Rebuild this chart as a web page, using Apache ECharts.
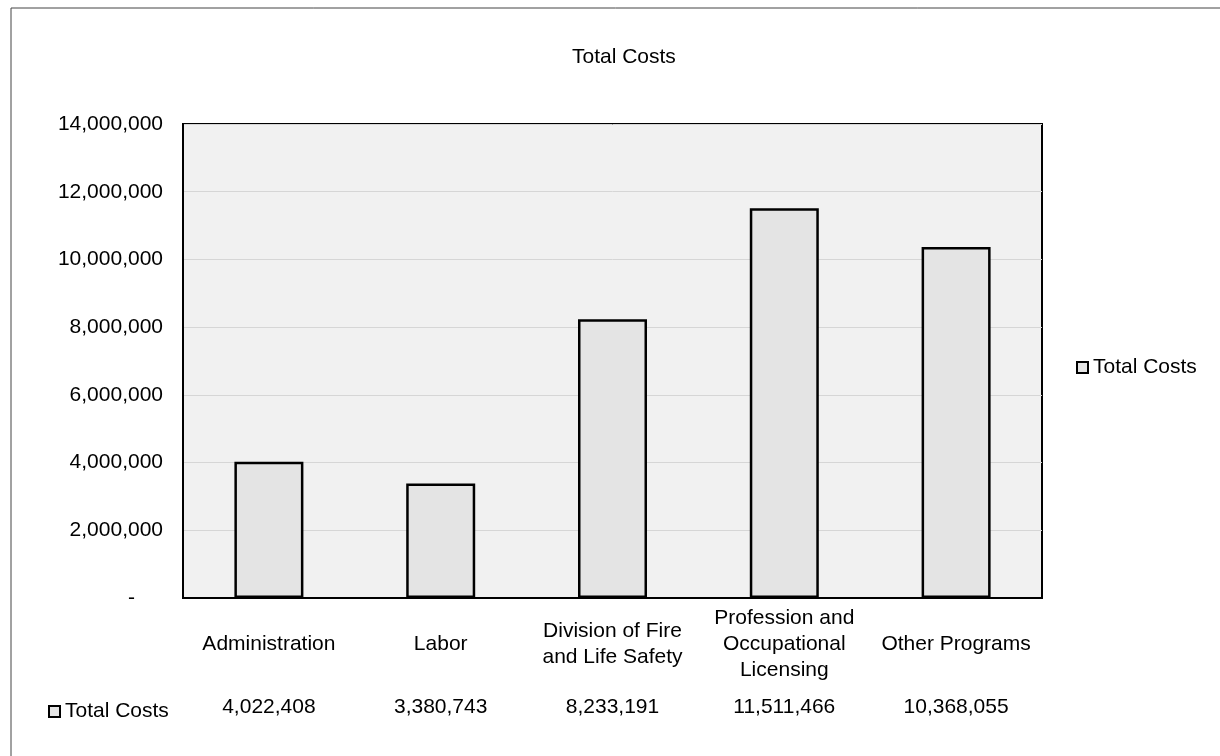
<!DOCTYPE html>
<html>
<head>
<meta charset="utf-8">
<style>html,body{margin:0;padding:0;background:#fff;}#chart{width:1220px;height:756px;}</style>
<script src="https://cdn.jsdelivr.net/npm/echarts@6/dist/echarts.min.js"></script>
</head>
<body>
<div id="chart"></div>
<script>
const categories = ['Administration', 'Labor', 'Division of Fire\nand Life Safety', 'Profession and\nOccupational\nLicensing', 'Other Programs'];
const totalCosts = [4022408, 3380743, 8233191, 11511466, 10368055];
const seriesName = 'Total Costs';
const chartTitle = 'Total Costs';
const yMin = 0, yMax = 14000000, yStep = 2000000;

const FONT = '"Liberation Sans", Arial, sans-serif';
const fmt = v => v.toLocaleString('en-US');

const chart = echarts.init(document.getElementById('chart'));
chart.setOption({
  animation: false,
  backgroundColor: '#ffffff',
  textStyle: { fontFamily: FONT, color: '#000' },
  title: {
    text: chartTitle, left: 567, top: 42,
    textStyle: { fontFamily: FONT, fontSize: 21, fontWeight: 'normal', color: '#000' }
  },
  legend: [
    {
      data: [seriesName], left: 1071, top: 352, orient: 'vertical',
      itemWidth: 11, itemHeight: 11, icon: 'rect',
      textStyle: { fontFamily: FONT, fontSize: 21, color: '#000' }
    },
    {
      data: [seriesName], left: 43, top: 696, orient: 'vertical',
      itemWidth: 11, itemHeight: 11, icon: 'rect', selectedMode: false,
      textStyle: { fontFamily: FONT, fontSize: 21, color: '#000' }
    }
  ],
  grid: {
    left: 183, top: 124, width: 859, height: 474,
    show: true, backgroundColor: '#f1f1f1', borderColor: '#000', borderWidth: 2
  },
  xAxis: [
    {
      type: 'category', data: categories, position: 'bottom',
      axisLine: { show: true, lineStyle: { color: '#000', width: 2 } },
      axisTick: { show: false },
      axisLabel: {
        interval: 0, margin: 46, verticalAlign: 'middle',
        fontFamily: FONT, fontSize: 21, lineHeight: 26, color: '#000'
      }
    },
    {
      type: 'category', data: totalCosts.map(fmt), position: 'bottom',
      gridIndex: 0,
      axisLine: { show: false }, axisTick: { show: false }, splitLine: { show: false },
      axisLabel: {
        interval: 0, margin: 109, verticalAlign: 'middle',
        fontFamily: FONT, fontSize: 21, color: '#000'
      }
    }
  ],
  yAxis: {
    type: 'value', min: yMin, max: yMax, interval: yStep,
    axisLine: { show: true, lineStyle: { color: '#000', width: 2 } },
    axisTick: { show: false },
    splitLine: { show: true, lineStyle: { color: '#d6d6d6', width: 1 } },
    axisLabel: {
      margin: 20, fontFamily: FONT, fontSize: 21, color: '#000',
      formatter: v => v === 0 ? '{dash|-}' : fmt(v),
      rich: { dash: { fontFamily: FONT, fontSize: 21, color: '#000', padding: [0, 28, 0, 0] } }
    }
  },
  series: [{
    name: seriesName, type: 'bar', xAxisIndex: 0, data: totalCosts,
    barWidth: 69,
    itemStyle: { color: '#e4e4e4', borderColor: '#000', borderWidth: 2.5 }
  }],
  graphic: [
    { type: 'line', shape: { x1: 11, y1: 8, x2: 1220, y2: 8 }, style: { stroke: '#444', lineWidth: 1 } },
    { type: 'line', shape: { x1: 11, y1: 8, x2: 11, y2: 756 }, style: { stroke: '#444', lineWidth: 1 } }
  ]
});
</script>
</body>
</html>
